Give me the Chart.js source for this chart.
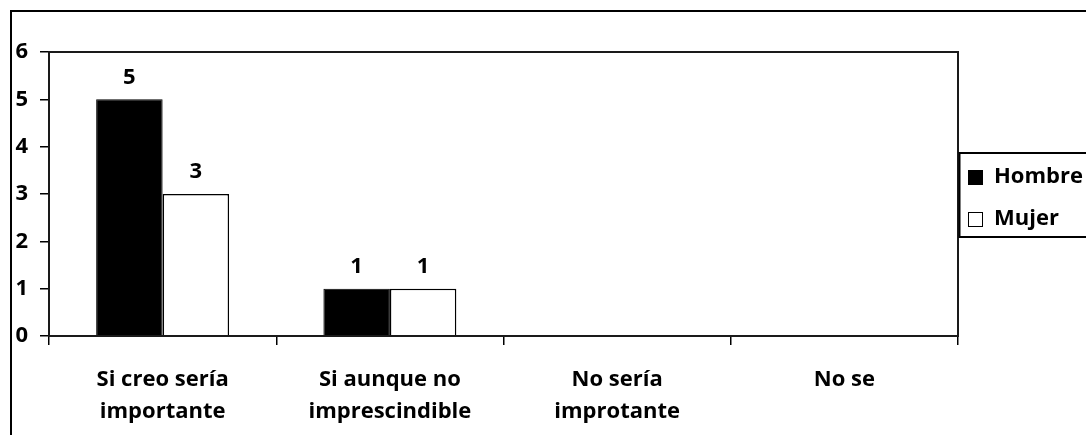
<!DOCTYPE html>
<html>
<head>
<meta charset="utf-8">
<script src="https://cdn.jsdelivr.net/npm/chart.js@4"></script>
<style>
  html, body { margin: 0; padding: 0; background: #fff; }
  canvas { display: block; }
</style>
</head>
<body>
<canvas id="barChart" width="1086" height="435"></canvas>
<script>
var categories = [['Si creo sería', 'importante'], ['Si aunque no', 'imprescindible'], ['No sería', 'improtante'], ['No se']];
var seriesNames = ['Hombre', 'Mujer'];
var hombre = [5, 1, 0, 0];
var mujer = [3, 1, 0, 0];
var yTicks = [0, 1, 2, 3, 4, 5, 6];

var FONT = { family: "'Open Sans', sans-serif", size: 22, weight: 'bold', lineHeight: 1.45 };
var fontStr = 'bold 22px "Open Sans", sans-serif';

// frame round the whole picture + box round the plot area
var framePlugin = {
    id: 'frames',
    beforeDraw: function (chart) {
        var c = chart.ctx;
        c.save();
        c.fillStyle = '#fff';
        c.fillRect(0, 0, chart.width, chart.height);
        c.strokeStyle = '#000';
        c.lineWidth = 2;
        c.strokeRect(11, 11, chart.width + 20, chart.height + 20);
        c.restore();
    },
    afterDatasetsDraw: function (chart) {
        var a = chart.chartArea, c = chart.ctx;
        c.save();
        c.strokeStyle = '#1a1a1a';
        c.lineWidth = 2;
        c.strokeRect(a.left, a.top, a.right - a.left, a.bottom - a.top);
        c.restore();
    }
};

// value labels above the bars (zeros are skipped)
var valueLabels = {
    id: 'valueLabels',
    afterDatasetsDraw: function (chart) {
        var c = chart.ctx;
        c.save();
        c.font = fontStr;
        c.fillStyle = '#000';
        c.textAlign = 'center';
        c.textBaseline = 'middle';
        chart.data.datasets.forEach(function (ds, i) {
            chart.getDatasetMeta(i).data.forEach(function (bar, j) {
                if (!ds.data[j]) return;
                c.fillText(ds.data[j], bar.x, bar.y - 22);
            });
        });
        c.restore();
    }
};

// boxed legend on the right
var boxLegend = {
    id: 'boxLegend',
    afterDraw: function (chart) {
        var c = chart.ctx;
        var x0 = chart.chartArea.right + 1, top = 153, bottom = 237;
        c.save();
        c.strokeStyle = '#000';
        c.lineWidth = 2;
        c.strokeRect(x0 + 0.5, top, chart.width, bottom - top);
        c.font = fontStr;
        c.textBaseline = 'middle';
        c.textAlign = 'left';
        chart.data.datasets.forEach(function (ds, i) {
            var cy = [177, 219][i];
            c.fillStyle = ds.backgroundColor;
            c.fillRect(x0 + 9, cy - 7, 15, 15);
            c.lineWidth = 1;
            c.strokeStyle = '#000';
            c.strokeRect(x0 + 9.5, cy - 6.5, 14, 14);
            c.fillStyle = '#000';
            c.fillText(ds.label, x0 + 35, cy);
        });
        c.restore();
    }
};

var ctx = document.getElementById('barChart').getContext('2d');
var myChart = new Chart(ctx, {
    type: 'bar',
    data: {
        labels: categories,
        datasets: [{
            label: seriesNames[0],
            data: hombre,
            backgroundColor: '#000000',
            borderColor: '#000000',
            borderWidth: 1
        }, {
            label: seriesNames[1],
            data: mujer,
            backgroundColor: '#ffffff',
            borderColor: '#000000',
            borderWidth: 1.5
        }]
    },
    options: {
        responsive: false,
        animation: false,
        layout: {
            padding: { left: 0, top: 52, right: 128, bottom: 0 }
        },
        datasets: {
            bar: { barPercentage: 1, categoryPercentage: 0.585 }
        },
        scales: {
            x: {
                afterFit: function (s) { s.height = 99; },
                grid: { offset: true, drawOnChartArea: false, tickLength: 9, color: '#000', lineWidth: 1.5 },
                border: { display: false },
                ticks: { font: FONT, color: '#000', padding: 19, maxRotation: 0, autoSkip: false },
                title: { display: false }
            },
            y: {
                min: 0,
                max: 6,
                afterFit: function (s) { s.width = 49; },
                afterBuildTicks: function (s) {
                    s.ticks = yTicks.map(function (v) { return { value: v }; });
                },
                grid: { drawOnChartArea: false, tickLength: 9, color: '#000', lineWidth: 1.5 },
                border: { display: false },
                ticks: { font: FONT, color: '#000', padding: 12 }
            }
        },
        plugins: {
            legend: { display: false },
            tooltip: { enabled: false },
            title: { display: false }
        }
    },
    plugins: [framePlugin, valueLabels, boxLegend]
});
</script>
</body>
</html>
